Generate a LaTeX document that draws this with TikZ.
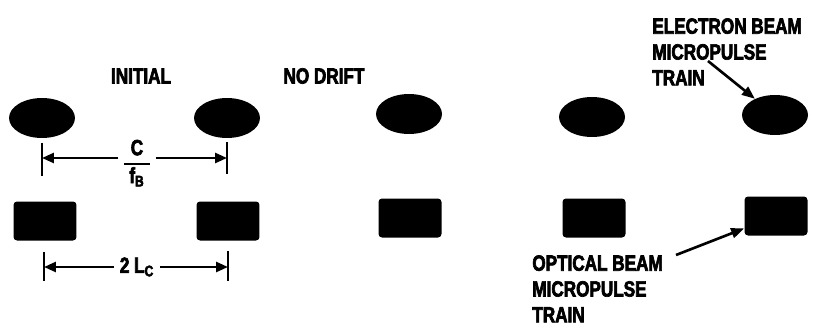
\documentclass[tikz,border=0pt]{standalone}
\usepackage{fontspec}
\setmainfont{Liberation Sans}[FakeStretch=0.78, FakeBold=3]
\usepackage{tikz}
\usetikzlibrary{
  arrows.meta,
  shapes.geometric
}
\definecolor{pulseblack}{RGB}{0,0,0}
\tikzset{
  electronPulse/.style={
    ellipse,
    fill=pulseblack,
    minimum width=1.32cm,
    minimum height=0.80cm,
    inner sep=0pt
  },
  opticalPulse/.style={
    rectangle,
    rounded corners=2pt,
    fill=pulseblack,
    minimum width=1.26cm,
    minimum height=0.78cm,
    inner sep=0pt
  },
  pulseLabel/.style={
    font=\bfseries\fontsize{12.5}{14.7}\selectfont,
    inner sep=0pt,
    align=left
  },
  dimArrow/.style={
    -{Triangle[length=2.4mm,width=2mm]},
    line width=1.5pt
  },
  dimTick/.style={
    line width=1.3pt
  },
  leaderArrow/.style={
    -{Triangle[length=2.6mm,width=2mm]},
    line width=1.5pt
  }
}

\begin{document}
\begin{tikzpicture}[x=0.02cm, y=-0.02cm]
  \useasboundingbox (0,0) rectangle (814,328);

  % column headings
  \node[pulseLabel] (initial) at (141,76) {INITIAL};
  \node[pulseLabel] (nodrift) at (324,76) {NO DRIFT};

  % electron beam micropulses
  \node[electronPulse] (e1) at (42,118) {};
  \node[electronPulse] (e2) at (227,118) {};
  \node[electronPulse] (e3) at (409,114) {};
  \node[electronPulse] (e4) at (592,117) {};
  \node[electronPulse] (e5) at (775,115) {};

  % optical beam micropulses
  \node[opticalPulse] (o1) at (45,221) {};
  \node[opticalPulse] (o2) at (228,221) {};
  \node[opticalPulse] (o3) at (410,218) {};
  \node[opticalPulse] (o4) at (594,218) {};
  \node[opticalPulse] (o5) at (776,216) {};

  % bunch spacing c/f_B
  \coordinate (d1l) at (42,158);
  \coordinate (d1r) at (227,158);
  \draw[dimTick] (42,143) -- (42,176);
  \draw[dimTick] (227,142) -- (227,174);
  \node[pulseLabel, align=center] (cfrac) at (137,164)
    {\setlength{\tabcolsep}{3pt}\setlength{\arrayrulewidth}{1.2pt}%
     \begin{tabular}{c}C\\\hline f\textsubscript{B}\end{tabular}};
  \draw[dimArrow] ([xshift=-3pt]cfrac.west |- d1l) -- (d1l);
  \draw[dimArrow] ([xshift=3pt]cfrac.east |- d1r) -- (d1r);

  % slippage distance 2 L_C
  \coordinate (d2l) at (44,267);
  \coordinate (d2r) at (228,267);
  \draw[dimTick] (44,252) -- (44,281);
  \draw[dimTick] (228,251) -- (228,281);
  \node[pulseLabel, inner xsep=3pt] (twolc) at (137,267) {2 L\textsubscript{C}};
  \draw[dimArrow] (twolc.west) -- (d2l);
  \draw[dimArrow] (twolc.east) -- (d2r);

  % callouts
  \node[pulseLabel, anchor=north west] (ebeam) at (652,18)
    {ELECTRON BEAM\\MICROPULSE\\TRAIN};
  \coordinate (etail) at (708,61);
  \draw[leaderArrow] (etail) -- (e5);

  \node[pulseLabel, anchor=north west] (obeam) at (532,255)
    {OPTICAL BEAM\\MICROPULSE\\TRAIN};
  \coordinate (otail) at (676,255);
  \draw[leaderArrow] (otail) -- (o5);
\end{tikzpicture}
\end{document}
